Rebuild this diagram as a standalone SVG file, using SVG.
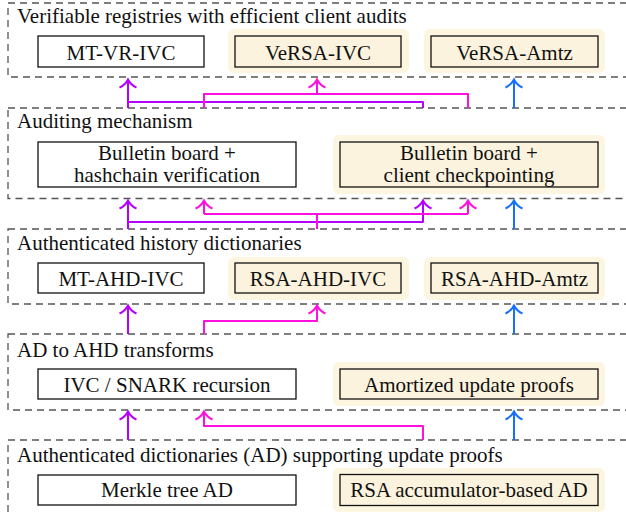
<svg xmlns="http://www.w3.org/2000/svg" width="626" height="516" viewBox="0 0 626 516">
<style>
.layer{fill:none;stroke:#555;stroke-width:1.3;stroke-dasharray:7 5}
.title{font-family:"Liberation Serif","Times New Roman",serif;font-size:21px;fill:#111}
.lbl{font-family:"Liberation Serif","Times New Roman",serif;font-size:21px;fill:#111;text-anchor:middle}
.box{fill:#fff;stroke:#111;stroke-width:1.3}
.cbox{fill:#fbf3dd;stroke:#111;stroke-width:1.3}
.hl{fill:#fcf5df;stroke:none}
.cp{fill:none;stroke:#b400ff;stroke-width:2;stroke-linejoin:round}
.cm{fill:none;stroke:#ff10dc;stroke-width:2;stroke-linejoin:round}
.cb{fill:none;stroke:#1670ff;stroke-width:2;stroke-linejoin:round}
</style>
<defs>
<marker id="ap" viewBox="-10 -10 12 20" refX="0" refY="0" markerWidth="12" markerHeight="20" markerUnits="userSpaceOnUse" orient="auto" overflow="visible"><path d="M-8,-8.5 C-6,-4 -2,-1 0,0 C-2,1 -6,4 -8,8.5" fill="none" stroke="#b400ff" stroke-width="2"/></marker>
<marker id="am" viewBox="-10 -10 12 20" refX="0" refY="0" markerWidth="12" markerHeight="20" markerUnits="userSpaceOnUse" orient="auto" overflow="visible"><path d="M-8,-8.5 C-6,-4 -2,-1 0,0 C-2,1 -6,4 -8,8.5" fill="none" stroke="#ff10dc" stroke-width="2"/></marker>
<marker id="ab" viewBox="-10 -10 12 20" refX="0" refY="0" markerWidth="12" markerHeight="20" markerUnits="userSpaceOnUse" orient="auto" overflow="visible"><path d="M-8,-8.5 C-6,-4 -2,-1 0,0 C-2,1 -6,4 -8,8.5" fill="none" stroke="#1670ff" stroke-width="2"/></marker>
</defs>
<rect width="626" height="516" fill="#fff"/>

<g id="layers">
<rect class="layer" x="8" y="3" width="700" height="74"/>
<rect class="layer" x="8" y="108" width="700" height="90.5"/>
<rect class="layer" x="8" y="229" width="700" height="75"/>
<rect class="layer" x="8" y="334" width="700" height="76"/>
<rect class="layer" x="8" y="440" width="700" height="200"/>
<text class="title" x="17" y="22.5">Verifiable registries with efficient client audits</text>
<text class="title" x="17" y="128">Auditing mechanism</text>
<text class="title" x="17" y="250">Authenticated history dictionaries</text>
<text class="title" x="17" y="357">AD to AHD transforms</text>
<text class="title" x="17" y="462">Authenticated dictionaries (AD) supporting update proofs</text>
</g>

<g id="n-mt-vr-ivc"><rect class="box" x="38" y="36" width="166" height="31"/><text class="lbl" x="121" y="59.5">MT-VR-IVC</text></g>
<g id="n-versa-ivc"><rect class="hl" x="228" y="29" width="181" height="44" rx="6"/><rect class="cbox" x="235" y="36" width="166" height="31"/><text class="lbl" x="318" y="59.5">VeRSA-IVC</text></g>
<g id="n-versa-amtz"><rect class="hl" x="424" y="29" width="181" height="44" rx="6"/><rect class="cbox" x="431" y="36" width="167" height="31"/><text class="lbl" x="514.5" y="59.5">VeRSA-Amtz</text></g>

<g id="n-bb-hash"><rect class="box" x="38" y="142" width="258" height="45"/><text class="lbl" x="167" y="159.5">Bulletin board +</text><text class="lbl" x="167" y="182">hashchain verification</text></g>
<g id="n-bb-check"><rect class="hl" x="333" y="135" width="272" height="59" rx="6"/><rect class="cbox" x="340" y="142" width="258" height="45"/><text class="lbl" x="469" y="159.5">Bulletin board +</text><text class="lbl" x="469" y="182">client checkpointing</text></g>

<g id="n-mt-ahd-ivc"><rect class="box" x="38" y="263" width="166" height="30"/><text class="lbl" x="121" y="286">MT-AHD-IVC</text></g>
<g id="n-rsa-ahd-ivc"><rect class="hl" x="228" y="257" width="181" height="43" rx="6"/><rect class="cbox" x="235" y="263" width="166" height="30"/><text class="lbl" x="318" y="286">RSA-AHD-IVC</text></g>
<g id="n-rsa-ahd-amtz"><rect class="hl" x="424" y="257" width="181" height="43" rx="6"/><rect class="cbox" x="431" y="263" width="167" height="30"/><text class="lbl" x="514.5" y="286">RSA-AHD-Amtz</text></g>

<g id="n-ivc-snark"><rect class="box" x="38" y="369" width="258" height="30"/><text class="lbl" x="167" y="391.5">IVC / SNARK recursion</text></g>
<g id="n-amortized"><rect class="hl" x="333" y="362" width="272" height="44" rx="6"/><rect class="cbox" x="340" y="369" width="258" height="30"/><text class="lbl" x="469" y="391.5">Amortized update proofs</text></g>

<g id="n-merkle"><rect class="box" x="38" y="475" width="258" height="30"/><text class="lbl" x="167" y="497">Merkle tree AD</text></g>
<g id="n-rsa-acc"><rect class="hl" x="333" y="468" width="272" height="44" rx="6"/><rect class="cbox" x="340" y="474.5" width="258" height="31"/><text class="lbl" x="469" y="497">RSA accumulator-based AD</text></g>

<g id="connectors">
<path class="cp" d="M128,108 V79.5" marker-end="url(#ap)"/>
<path class="cp" d="M423,108 V102 H128"/>
<path class="cm" d="M204,108 V94 H468 V108"/>
<path class="cm" d="M317,94 V79.5" marker-end="url(#am)"/>
<path class="cb" d="M514,108 V79.5" marker-end="url(#ab)"/>

<path class="cp" d="M128,229 V200.5" marker-end="url(#ap)"/>
<path class="cp" d="M128,222 H423 V200.5" marker-end="url(#ap)"/>
<path class="cm" d="M317,229 V214"/>
<path class="cm" d="M204,214 H468"/>
<path class="cm" d="M204,214 V200.5" marker-end="url(#am)"/>
<path class="cm" d="M468,214 V200.5" marker-end="url(#am)"/>
<path class="cb" d="M514,229 V200.5" marker-end="url(#ab)"/>

<path class="cp" d="M128,334 V305.5" marker-end="url(#ap)"/>
<path class="cm" d="M204,334 V321 H317 V305.5" marker-end="url(#am)"/>
<path class="cb" d="M514,334 V305.5" marker-end="url(#ab)"/>

<path class="cp" d="M128,440 V411.5" marker-end="url(#ap)"/>
<path class="cm" d="M423,440 V426 H204 V411.5" marker-end="url(#am)"/>
<path class="cb" d="M514,440 V411.5" marker-end="url(#ab)"/>
</g>
</svg>
